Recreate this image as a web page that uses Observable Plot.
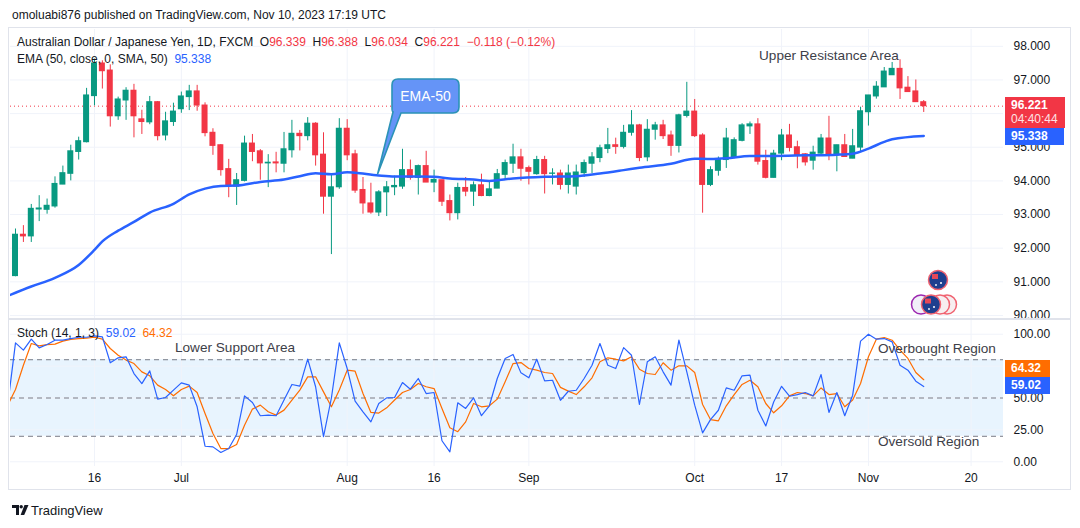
<!DOCTYPE html>
<html><head><meta charset="utf-8">
<script src="https://cdn.jsdelivr.net/npm/d3@7"></script>
<script src="https://cdn.jsdelivr.net/npm/@observablehq/plot@0.6"></script>
<style>
html,body{margin:0;padding:0;background:#fff;}
#page{position:relative;width:1080px;height:528px;overflow:hidden;font-family:"Liberation Sans",Arial,sans-serif;color:#131722;background:#fff;}
.t{position:absolute;white-space:nowrap;font-size:12px;line-height:14px;}
.ann{position:absolute;white-space:nowrap;font-size:13.6px;line-height:16px;color:#3d4048;}
.box{position:absolute;color:#fff;font-size:12px;line-height:16px;padding:0 6px;box-sizing:border-box;font-weight:bold;}
#frame{position:absolute;left:8px;top:27px;width:1063px;height:463px;border:1px solid #e0e3eb;box-sizing:border-box;}
#sep{position:absolute;left:8px;top:318px;width:1063px;height:2px;background:#e0e3eb;}
svg.plot{position:absolute;left:0;}
</style></head>
<body><div id="page">
<div id="frame"></div>
</div>
<script>
// ---------- data ----------
const open = [91.17,92.40,92.35,93.15,93.14,93.24,93.89,94.21,94.86,95.15,96.52,97.49,97.28,95.92,96.39,96.68,95.83,95.74,96.34,95.35,95.75,96.13,96.49,96.66,96.24,95.43,95.06,94.35,93.83,94.00,95.11,94.88,94.52,94.55,94.51,94.91,95.40,95.33,95.70,94.78,93.53,93.81,95.55,94.79,93.73,93.33,93.06,93.66,93.81,93.83,94.32,94.09,94.44,93.95,94.02,93.40,93.04,93.79,93.68,93.87,93.55,93.77,94.18,94.51,94.70,94.38,94.20,94.62,94.21,94.22,93.88,93.83,94.23,94.51,94.68,94.95,95.06,95.01,95.43,95.65,94.70,95.52,95.65,95.35,95.04,95.93,96.06,95.35,93.88,94.30,94.62,94.69,95.19,95.62,95.68,94.59,94.09,94.81,95.35,95.00,94.79,94.60,94.81,95.26,94.76,95.06,94.66,94.99,96.04,96.51,96.78,97.14,97.33,96.77,96.66,96.339];
const high = [92.57,92.67,93.30,93.56,93.46,94.12,94.44,95.06,95.30,96.75,97.62,97.57,97.45,96.49,96.77,96.87,96.10,96.51,96.36,96.04,96.31,96.64,96.84,96.84,96.32,95.55,95.08,94.64,94.22,95.33,95.38,94.93,94.78,94.85,95.44,95.80,95.50,95.88,95.73,95.43,94.22,95.85,95.82,94.91,94.10,93.93,93.71,93.98,94.14,94.94,94.62,94.47,94.88,94.32,94.02,93.58,93.93,94.10,93.97,94.20,93.98,94.34,94.62,95.09,94.94,94.44,94.73,94.73,94.36,94.32,94.47,94.47,94.62,94.84,95.06,95.56,95.27,95.65,96.09,95.68,95.82,95.74,95.80,95.48,95.98,96.93,96.42,95.40,94.42,94.71,95.56,95.28,95.70,95.75,95.85,94.91,94.91,95.53,95.68,95.18,94.81,95.03,95.38,95.92,95.06,95.38,95.53,96.19,96.54,96.95,97.37,97.52,97.60,97.10,97.00,96.388];
const low = [91.15,92.17,92.17,92.79,93.01,93.19,93.89,94.00,94.62,95.13,96.23,96.73,95.60,95.80,95.80,95.28,95.38,95.67,95.19,95.19,95.62,96.01,96.09,96.07,95.31,94.76,94.14,93.50,93.27,93.97,94.57,94.02,93.80,94.24,94.24,94.68,94.89,95.19,94.44,93.01,91.81,93.75,94.60,93.63,93.01,93.01,92.94,92.94,93.56,93.75,94.02,93.58,93.95,93.65,93.24,92.81,92.84,93.53,93.24,93.53,93.53,93.77,94.02,94.22,93.99,93.88,94.17,93.61,93.88,93.73,93.61,93.58,94.10,94.22,94.54,94.81,94.79,94.95,95.33,94.57,94.57,95.21,95.23,94.73,94.83,95.87,95.29,93.04,93.83,94.14,94.37,94.66,95.16,95.38,94.47,94.06,94.09,94.60,94.86,94.36,94.44,94.32,94.76,94.60,94.27,94.71,94.66,94.86,95.63,96.43,96.78,97.14,96.42,96.64,96.34,96.034];
const close = [92.40,92.35,93.17,93.18,93.26,93.91,94.23,94.88,95.18,96.54,97.49,97.26,95.92,96.42,96.68,95.92,95.75,96.34,95.33,95.77,96.06,96.51,96.66,96.24,95.42,95.04,94.32,93.83,94.02,95.11,94.86,94.52,94.54,94.52,94.94,95.40,95.33,95.70,94.76,93.53,93.81,95.55,94.76,93.71,93.33,93.06,93.66,93.81,93.85,94.32,94.09,94.44,93.95,94.03,93.38,93.04,93.79,93.68,93.87,93.55,93.75,94.20,94.53,94.70,94.36,94.27,94.62,94.20,94.22,93.88,94.22,94.25,94.53,94.70,94.97,95.06,95.01,95.43,95.65,94.68,95.52,95.65,95.33,95.04,95.95,96.06,95.33,93.88,94.32,94.64,95.26,95.21,95.65,95.68,94.57,94.09,94.81,95.35,94.98,94.76,94.55,94.84,95.26,94.76,95.06,94.71,95.03,96.07,96.54,96.80,97.25,97.33,96.75,96.64,96.34,96.221];
// EMA(50) read at sampled bars
const emaBar = [-1,2,5,8,10,11,13,15,17,20,22,24,26,28,31,34,36,38,40,42,43,46,48,51,53,55,58,60,63,67,71,74,77,79,83,86,88,90,93,96,100,104,106,108,110,111,115];
const emaValue = [90.58,90.86,91.12,91.50,91.95,92.20,92.52,92.78,93.06,93.32,93.60,93.77,93.85,93.86,93.97,94.04,94.14,94.23,94.20,94.26,94.24,94.16,94.13,94.13,94.12,94.07,94.04,94.00,94.07,94.12,94.14,94.22,94.32,94.39,94.51,94.66,94.65,94.67,94.74,94.74,94.76,94.78,94.81,94.96,95.16,95.24,95.338];
// Stochastic %K and %D, bars -1 .. 115
const stochK = [44,93.2,87.5,96.1,89.3,91.9,95.3,95.3,96.6,97.6,97.6,98.7,97.9,77.6,81.5,82.3,69.2,61.3,71.3,49.1,50.4,56.2,61.9,60.1,43.1,12.2,11.7,7.3,10.4,21.4,51.7,46.5,36.1,36.6,36.1,48.4,60.6,59.3,80.5,58.8,19.8,50,93.2,73.1,47.5,39.2,31.3,45.7,50.1,50.4,62.1,56.9,65.3,53.5,54.3,16.5,7.8,46.2,41.8,50.1,36.1,43.9,65.3,80.9,84.1,69.7,65.8,80.4,63.4,63.9,48.2,55.3,56.1,65.3,75.7,92.7,75.7,73.1,89.5,83.5,44.9,78.4,82.3,70.5,60.1,95.3,70.5,44.4,22.7,33.1,40.4,57.9,56.1,67.4,67.9,40.4,28.1,46.9,59.2,51.4,52.7,54.3,51.7,68.4,38.7,54.3,36.1,52.2,94.6,100,96.1,96.6,94.0,75.7,71.8,63.2,59.02];
const stochD = [44,56.7,75.7,92.7,90.9,91.9,92.2,94.6,95.9,96.6,96.9,97.6,96.1,88.8,83.5,79.7,77.0,70.5,67.4,60.1,56.7,51.7,56.7,59.3,54.3,37.9,22.2,10.4,10.4,13.6,28.7,41.3,44.4,39.2,36.6,40.5,48.4,56.2,66.6,66.6,54.8,43.1,56.2,71.8,71.0,53.5,38.7,38.2,42.3,48.4,54.3,56.7,61.4,58.8,57.4,41.8,26.7,23.6,31.3,45.7,43.1,43.9,49.1,62.7,77.0,77.8,73.1,71.8,70.0,69.2,58.3,55.4,52.7,58.8,65.8,78.4,81.5,80.4,79.1,82.3,72.6,69.2,68.4,77.6,71.8,75.2,75.2,70.0,44.9,33.1,32.1,43.9,52.7,60.6,63.9,58.8,45.7,38.4,43.9,51.7,54.3,53.5,51.7,57.9,52.7,53.5,43.1,48.4,61.4,82.3,96.1,97.4,95.3,87.5,81.0,70.0,64.32];
const stochFirstBar = -1;
// axes
const tickBar = [10,21,42,53,65,86,97,108,121];
const tickLabels = ["16","Jul","Aug","16","Sep","Oct","17","Nov","20"];
const priceTicks = [90,91,92,93,94,95,96,97,98];
const stochTicks = [0,25,50,75,100];
const stochLevels = [80,50,20];
const countdown = "04:40:44";

// ---------- build ----------
const UP = "#089981", DOWN = "#F23645", BLUE = "#2962FF", ORANGE = "#FF6D00", GRID = "#f0f3fa";
const FONT = '"Liberation Sans", Arial, sans-serif';
const xDomain = [-0.633, 125.1];
const priceDomain = [89.88, 98.50], priceH = 290;
const stochDomain = [-3.68, 110.74], stochH = 170, stochMB = 24;
const bars = close.map((c, i) => ({i, o: open[i], h: high[i], l: low[i], c, col: c >= open[i] ? UP : DOWN}));
const ema = emaBar.map((b, k) => ({b, v: emaValue[k]}));
const kData = stochK.map((v, k) => ({b: k + stochFirstBar, v}));
const dData = stochD.map((v, k) => ({b: k + stochFirstBar, v}));
const page = document.getElementById("page");
const last = close.length - 1;
const lastEma = emaValue[emaValue.length - 1];
const lastK = stochK[stochK.length - 1], lastD = stochD[stochD.length - 1];

// value boxes on the right axes; axis labels fully covered by them are not drawn
const yP = d3.scaleLinear(priceDomain, [priceH, 0]);
const yS = d3.scaleLinear(stochDomain, [stochH - stochMB, 0]);
const priceBoxes = [[yP(close[last]) - 9, yP(close[last]) + 22], [yP(lastEma) - 8, yP(lastEma) + 9]];
const kC = yS(lastK), dC = Math.min(yS(lastD), kC - 17);
const stochBoxes = [[dC - 8.5, dC + 8.5], [kC - 8.5, kC + 8.5]];
const hidden = (y, boxes) => boxes.some(([a, b]) => y - 4 >= a - 3 && y + 4 <= b + 3);
const priceLabelTicks = priceTicks.filter(t => !hidden(yP(t), priceBoxes));
const stochLabelTicks = stochTicks.filter(t => !hidden(yS(t), stochBoxes));

const priceTop = 29;
const pricePlot = Plot.plot({
  width: 1080, height: priceH, marginLeft: 10, marginRight: 77, marginTop: 0, marginBottom: 0,
  style: {fontFamily: FONT, fontSize: "12px", color: "#131722", background: "transparent", overflow: "visible"},
  x: {domain: xDomain, axis: null},
  y: {domain: priceDomain},
  color: {type: "identity"},
  marks: [
    Plot.gridY(priceTicks, {stroke: GRID, strokeOpacity: 1}),
    Plot.gridX(tickBar, {stroke: GRID, strokeOpacity: 1}),
    Plot.axisY(priceLabelTicks, {anchor: "right", tickSize: 0, tickPadding: 10, label: null, tickFormat: d => d.toFixed(3)}),
    Plot.ruleY([close[last]], {stroke: DOWN, strokeDasharray: "1,3", strokeWidth: 1}),
    Plot.ruleX(bars, {x: "i", y1: "l", y2: "h", stroke: "col", strokeWidth: 1}),
    Plot.rect(bars, {x1: d => d.i - 0.38, x2: d => d.i + 0.38, y1: "o", y2: "c", fill: "col", insetTop: -0.5, insetBottom: -0.5}),
    Plot.line(ema, {x: "b", y: "v", stroke: BLUE, strokeWidth: 2.5, curve: "monotone-x", clip: true})
  ]
});
pricePlot.classList.add("plot");
pricePlot.style.top = priceTop + "px";
page.appendChild(pricePlot);

const stochTop = 320;
const stochPlot = Plot.plot({
  width: 1080, height: stochH, marginLeft: 10, marginRight: 77, marginTop: 0, marginBottom: stochMB,
  style: {fontFamily: FONT, fontSize: "12px", color: "#131722", background: "transparent", overflow: "visible"},
  x: {domain: xDomain},
  y: {domain: stochDomain},
  marks: [
    Plot.rect([stochLevels], {y1: d => d[0], y2: d => d[d.length - 1], fill: "#2196F3", fillOpacity: 0.1}),
    Plot.gridY(stochTicks, {stroke: GRID, strokeOpacity: 1}),
    Plot.gridX(tickBar, {stroke: GRID, strokeOpacity: 1}),
    Plot.ruleY(stochLevels, {stroke: "#787B86", strokeDasharray: "5,4", strokeWidth: 1}),
    Plot.axisY(stochLabelTicks, {anchor: "right", tickSize: 0, tickPadding: 10, label: null, tickFormat: d => d.toFixed(2)}),
    Plot.axisX(tickBar, {anchor: "bottom", tickSize: 0, tickPadding: 7, label: null, tickFormat: d => tickLabels[tickBar.indexOf(d)]}),
    Plot.line(dData, {x: "b", y: "v", stroke: ORANGE, strokeWidth: 1.2, clip: true}),
    Plot.line(kData, {x: "b", y: "v", stroke: BLUE, strokeWidth: 1.2, clip: true})
  ]
});
stochPlot.classList.add("plot");
stochPlot.style.top = stochTop + "px";
page.appendChild(stochPlot);

const sep = document.createElement("div"); sep.id = "sep"; page.appendChild(sep);

function add(html, cls, left, top, extra) {
  const d = document.createElement("div");
  d.className = cls; d.innerHTML = html;
  d.style.left = left + "px"; d.style.top = top + "px";
  if (extra) Object.assign(d.style, extra);
  page.appendChild(d);
  return d;
}
const R = s => `<span style="color:${DOWN}">${s}</span>`;
add("omoluabi876 published on TradingView.com, Nov 10, 2023 17:19 UTC", "t", 12, 8);
add(`Australian Dollar / Japanese Yen, 1D, FXCM&nbsp; O${R(open[last].toFixed(3))}&nbsp; H${R(high[last].toFixed(3))}&nbsp; L${R(low[last].toFixed(3))}&nbsp; C${R(close[last].toFixed(3))}&nbsp; ${R("−0.118 (−0.12%)")}`, "t", 17, 35);
add(`EMA (50, close, 0, SMA, 50)&nbsp; <span style="color:${BLUE}">${lastEma.toFixed(3)}</span>`, "t", 17, 52);
add(`Stoch (14, 1, 3)&nbsp; <span style="color:${BLUE}">${lastK.toFixed(2)}</span>&nbsp; <span style="color:${ORANGE}">${lastD.toFixed(2)}</span>`, "t", 17, 326);

add("Upper Resistance Area", "ann", 759, 48);
add("Lower Support Area", "ann", 175, 340);
add("Overbought Region", "ann", 878, 341);
add("Oversold Region", "ann", 878, 434);

// right-side value boxes positioned through the plots' scales
const py = v => priceTop + pricePlot.scale("y").apply(v);
const sy = v => stochTop + stochPlot.scale("y").apply(v);
const yLast = py(close[last]);
add(`${close[last].toFixed(3)}<br><span style="font-weight:normal;color:#fde2e4">${countdown}</span>`, "box", 1005, yLast - 9, {background: DOWN, width: "60px", height: "31px", paddingTop: "1px", lineHeight: "14.5px"});
const yEma = py(lastEma);
add(lastEma.toFixed(3), "box", 1005, yEma - 7.5, {background: BLUE, width: "59px", height: "17px", lineHeight: "17px"});
const yK = sy(lastK);
const yD = Math.min(sy(lastD), yK - 17);
add(lastD.toFixed(2), "box", 1005, yD - 8.5, {background: ORANGE, width: "45px", height: "17px", lineHeight: "17px"});
add(lastK.toFixed(2), "box", 1005, yK - 8.5, {background: BLUE, width: "45px", height: "17px", lineHeight: "17px"});

// EMA-50 callout, tail pointing at the EMA line
const ns = "http://www.w3.org/2000/svg";
const over = document.createElementNS(ns, "svg");
over.setAttribute("width", 1080); over.setAttribute("height", 528);
over.style.cssText = "position:absolute;left:0;top:0;pointer-events:none";
const tipX = pricePlot.scale("x").apply(45.9);
const tipY = py(94.18);
over.innerHTML = `
<path d="M398,79 H453 Q459,79 459,85 V107 Q459,113 453,113 H401 L${tipX},${tipY} L393,112 Q392,112 392,107 V85 Q392,79 398,79 Z" fill="#6594f7" stroke="#2b93b6" stroke-width="1.6"/>
<text x="425.5" y="100.5" text-anchor="middle" fill="#fff" font-family='${FONT}' font-size="14">EMA-50</text>
<g stroke="#f06270" stroke-width="1.5" fill="#fff">
<circle cx="938" cy="280" r="9.5" fill="#1e3f8f"/>
<circle cx="921" cy="304.5" r="9.5" stroke="#9c27b0" fill="#f0eef8"/>
<circle cx="947" cy="304.5" r="9.5" fill="#f7eef0"/>
<circle cx="940" cy="304.5" r="9.5" fill="#f7eef0"/>
<circle cx="931" cy="304.5" r="9.5" fill="#1e3f8f"/>
</g>
<g fill="#fff"><circle cx="941" cy="283" r="1"/><circle cx="936" cy="285" r="0.9"/><circle cx="934" cy="307" r="1"/><circle cx="929" cy="309" r="0.9"/></g>
<g fill="#e64858"><rect x="932" y="274" width="6" height="5"/><rect x="925" y="298.5" width="6" height="5"/></g>
<g transform="translate(12,505)" fill="#131722">
<path d="M0 0H7V10H4V3H0Z"/><circle cx="9.2" cy="1.7" r="1.7"/><path d="M12.5 0H16.5L12.2 10H8.6Z"/>
</g>
<text x="31" y="514.5" fill="#131722" font-family='${FONT}' font-size="13">TradingView</text>`;
page.appendChild(over);
</script>
</body></html>
